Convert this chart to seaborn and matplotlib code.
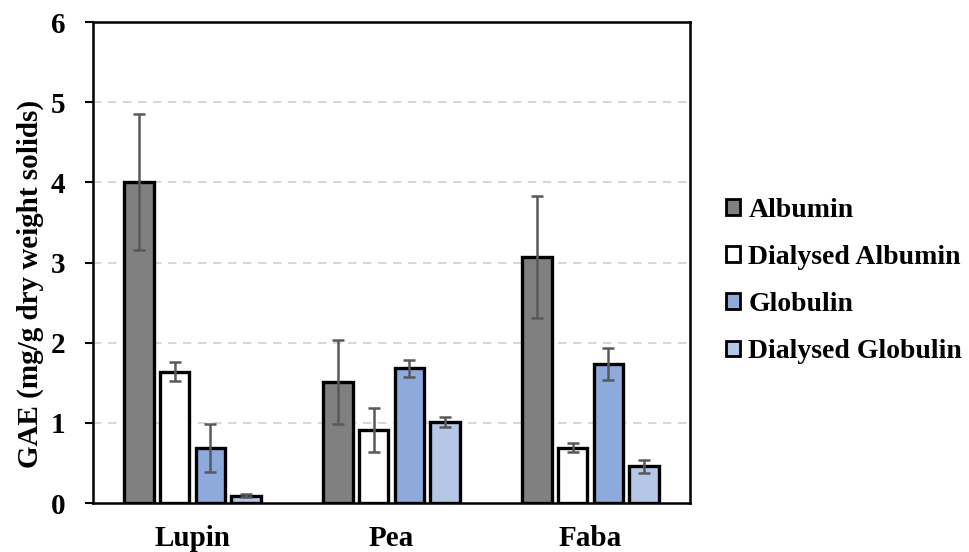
import matplotlib
matplotlib.use("Agg")
import matplotlib.pyplot as plt
import seaborn as sns
import pandas as pd
import numpy as np
from matplotlib.patches import Patch

# Protein fraction phenolic content (GAE) by legume source
sources = ["Lupin", "Pea", "Faba"]
fractions = ["Albumin", "Dialysed Albumin", "Globulin", "Dialysed Globulin"]
albumin = [4.00, 1.51, 3.07]
dialysed_albumin = [1.64, 0.91, 0.69]
globulin = [0.69, 1.68, 1.73]
dialysed_globulin = [0.09, 1.01, 0.46]
albumin_err = [0.85, 0.52, 0.76]
dialysed_albumin_err = [0.12, 0.28, 0.06]
globulin_err = [0.30, 0.11, 0.20]
dialysed_globulin_err = [0.02, 0.06, 0.08]

colors = ["#808080", "#FFFFFF", "#8EA9DB", "#B4C7E7"]
yticks = [0, 1, 2, 3, 4, 5, 6]

values = [albumin, dialysed_albumin, globulin, dialysed_globulin]
errors = [albumin_err, dialysed_albumin_err, globulin_err, dialysed_globulin_err]

rows = []
for frac, vals in zip(fractions, values):
    for src, v in zip(sources, vals):
        rows.append({"Source": src, "Fraction": frac, "GAE": v})
df = pd.DataFrame(rows)

sns.set_theme(style="white")
plt.rcParams["font.family"] = ["Liberation Serif", "DejaVu Serif"]
plt.rcParams["font.weight"] = "bold"
plt.rcParams["text.color"] = "black"
plt.rcParams["axes.labelcolor"] = "black"
plt.rcParams["xtick.color"] = "black"
plt.rcParams["ytick.color"] = "black"

fig = plt.figure(figsize=(9.69, 5.52), dpi=100)
ax = fig.add_axes([93 / 969, 1 - 503 / 552, (690 - 93) / 969, (503 - 22) / 552])

sns.barplot(data=df, x="Source", y="GAE", hue="Fraction", order=sources,
            hue_order=fractions, palette=colors, errorbar=None, width=0.72,
            gap=0.17, edgecolor="black", linewidth=2.4, saturation=1,
            legend=False, ax=ax, zorder=3)

# Error bars centred on each drawn bar
for container, errs in zip(ax.containers, errors):
    for patch, e in zip(container.patches, errs):
        cx = patch.get_x() + patch.get_width() / 2
        h = patch.get_height()
        ax.errorbar(cx, h, yerr=e, fmt="none", ecolor="#595959",
                    elinewidth=1.8, capsize=4, capthick=1.8, zorder=4)

ax.set_xlim(-0.5, len(sources) - 0.5)
ax.set_ylim(0, 6)
ax.set_yticks(yticks)
ax.set_yticklabels([str(t) for t in yticks], fontsize=21, fontweight="bold")
ax.set_xticks(range(len(sources)))
ax.set_xticklabels(sources, fontsize=21, fontweight="bold")
ax.set_xlabel("")
ax.set_ylabel("GAE (mg/g dry weight solids)", fontsize=21, fontweight="bold")
ax.yaxis.set_label_coords(-0.082, 0.455)
ax.tick_params(axis="y", which="major", direction="out", length=6, width=1.5,
               left=True, pad=14, color="black", labelcolor="black")
ax.tick_params(axis="x", length=0, pad=16, labelcolor="black")

for y in yticks[1:-1]:
    ax.axhline(y, color="#D0D0D0", linestyle=(0, (5, 4)), linewidth=1.2, zorder=0)

for s in ax.spines.values():
    s.set_visible(True)
    s.set_color("black")
    s.set_linewidth(1.8)

handles = [Patch(facecolor=c, edgecolor="black", linewidth=2.0) for c in colors]
fig.legend(handles, fractions, loc="center left",
           bbox_to_anchor=(715 / 969, 1 - 281 / 552), frameon=False,
           prop={"family": "Liberation Serif", "weight": "bold", "size": 20},
           labelcolor="black",
           handlelength=0.5, handleheight=0.5, handletextpad=0.3,
           labelspacing=0.8, borderaxespad=0)

fig.savefig("out.png", dpi=100)
